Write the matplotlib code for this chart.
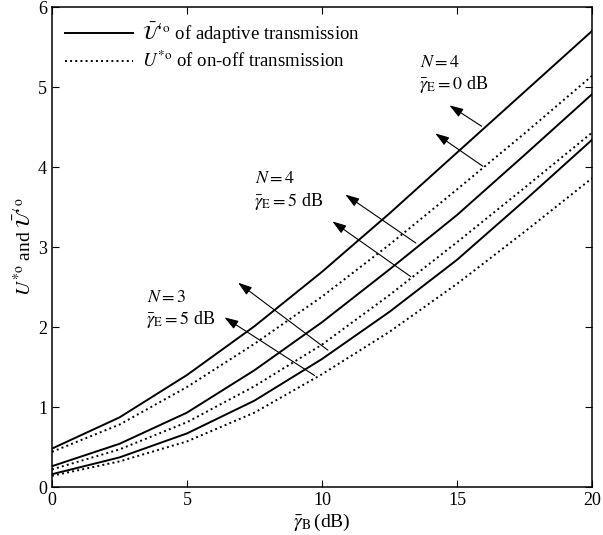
import numpy as np
import matplotlib.pyplot as plt

plt.rcParams['font.family'] = ['Liberation Serif', 'DejaVu Serif']
plt.rcParams['mathtext.fontset'] = 'stix'

# gamma_B in dB
gb = [0, 2.5, 5, 7.5, 10, 12.5, 15, 17.5, 20]

# adaptive transmission (solid)
ad_n4_0 = [0.48, 0.87, 1.40, 2.01, 2.69, 3.42, 4.18, 4.94, 5.70]
ad_n4_5 = [0.26, 0.54, 0.93, 1.46, 2.06, 2.72, 3.40, 4.15, 4.91]
ad_n3_5 = [0.16, 0.37, 0.67, 1.08, 1.60, 2.19, 2.84, 3.58, 4.34]

# on-off transmission (dotted)
oo_n4_0 = [0.44, 0.78, 1.25, 1.79, 2.38, 3.03, 3.72, 4.42, 5.14]
oo_n4_5 = [0.22, 0.47, 0.81, 1.26, 1.78, 2.40, 3.06, 3.74, 4.43]
oo_n3_5 = [0.14, 0.32, 0.57, 0.93, 1.41, 1.94, 2.54, 3.19, 3.86]

fig = plt.figure(figsize=(6.03, 5.35), dpi=100)
ax = fig.add_axes([0.0862, 0.0897, 0.8956, 0.8972])

lw = 1.4
ax.plot(gb, ad_n4_0, 'k-', lw=lw, label=r"$\bar{\mathcal{U}}'^{\mathrm{o}}$ of adaptive transmission")
ax.plot(gb, oo_n4_0, 'k:', lw=lw, label=r"$U^{*\mathrm{o}}$ of on-off transmission")
ax.plot(gb, ad_n4_5, 'k-', lw=lw)
ax.plot(gb, oo_n4_5, 'k:', lw=lw)
ax.plot(gb, ad_n3_5, 'k-', lw=lw)
ax.plot(gb, oo_n3_5, 'k:', lw=lw)

ax.set_xlim(0, 20)
ax.set_ylim(0, 6)
ax.set_xticks([0, 5, 10, 15, 20])
ax.set_yticks([0, 1, 2, 3, 4, 5, 6])
ax.tick_params(direction='in', top=True, right=True, labelsize=13, length=5)
for s in ax.spines.values():
    s.set_linewidth(1.1)

ax.set_xlabel(r"$\bar{\gamma}_{\mathrm{B}}\,$(dB)", fontsize=14, labelpad=2)
ax.set_ylabel(r"$U^{*\mathrm{o}}$ and $\bar{\mathcal{U}}'^{\mathrm{o}}$", fontsize=14, labelpad=2)

ax.legend(loc='upper left', frameon=False, fontsize=13.5, handlelength=3.6,
          borderaxespad=0.3, handletextpad=0.5, labelspacing=0.3)

akw = dict(arrowstyle='-|>,head_length=0.6,head_width=0.2', color='k', lw=0.8, mutation_scale=14)
# N=4, gamma_E=0 dB
ax.annotate('', xy=(14.63, 4.79), xytext=(16.0, 4.49), arrowprops=akw)
ax.annotate('', xy=(14.11, 4.44), xytext=(16.04, 3.99), arrowprops=akw)
ax.text(13.63, 5.31, r"$N = 4$", fontsize=13, va='center')
ax.text(13.6, 5.03, r"$\bar{\gamma}_{\mathrm{E}} = 0$ dB", fontsize=13, va='center')
# N=4, gamma_E=5 dB
ax.annotate('', xy=(10.78, 3.675), xytext=(13.56, 3.03), arrowprops=akw)
ax.annotate('', xy=(10.30, 3.34), xytext=(13.37, 2.61), arrowprops=akw)
ax.text(7.52, 3.86, r"$N = 4$", fontsize=13, va='center')
ax.text(7.5, 3.575, r"$\bar{\gamma}_{\mathrm{E}} = 5$ dB", fontsize=13, va='center')
# N=3, gamma_E=5 dB
ax.annotate('', xy=(6.81, 2.575), xytext=(10.30, 1.69), arrowprops=akw)
ax.annotate('', xy=(6.30, 2.14), xytext=(9.81, 1.375), arrowprops=akw)
ax.text(3.52, 2.375, r"$N = 3$", fontsize=13, va='center')
ax.text(3.5, 2.09, r"$\bar{\gamma}_{\mathrm{E}} = 5$ dB", fontsize=13, va='center')

fig.savefig('out.png', dpi=100)
